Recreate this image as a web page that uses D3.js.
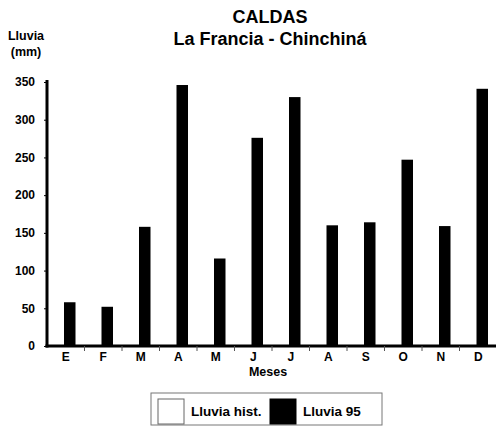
<!DOCTYPE html>
<html><head><meta charset="utf-8">
<script src="https://cdn.jsdelivr.net/npm/d3@7"></script>
<style>
html,body{margin:0;padding:0;background:#fff;}
svg{display:block;font-family:"Liberation Sans",Arial,sans-serif;font-weight:bold;}
</style></head>
<body>
<script>
const months = ["E","F","M","A","M","J","J","A","S","O","N","D"];
const monthKeys = months.map((m,i)=>i+"");
const lluviaHist = [150,160,220,290,290,190,150,170,230,330,300,200];
const lluvia95 = [58,52,158,346,116,276,330,160,164,247,159,341];
const yTicks = [0,50,100,150,200,250,300,350];
const seriesNames = ["Lluvia hist.","Lluvia 95"];
const seriesColors = ["#ffffff","#000000"];

const W=496,H=432;
const svg=d3.select("body").append("svg").attr("width",W).attr("height",H);

const x0=d3.scaleBand().domain(monthKeys).range([47,497]).padding(0);
const x1=d3.scaleBand().domain(["hist","p95"]).range([5.5,28.5]).padding(0);
const y=d3.scaleLinear().domain([0,350]).range([346,82]);

// titles
svg.append("text").attr("x",270).attr("y",23).attr("text-anchor","middle").attr("font-size",18).text("CALDAS");
svg.append("text").attr("x",270).attr("y",45).attr("text-anchor","middle").attr("font-size",18).text("La Francia - Chinchiná");
svg.append("text").attr("x",26).attr("y",40).attr("text-anchor","middle").attr("font-size",12.5).text("Lluvia");
svg.append("text").attr("x",26).attr("y",56).attr("text-anchor","middle").attr("font-size",12.5).text("(mm)");

// bars
const g=svg.append("g");
months.forEach((m,i)=>{
  const bx=x0(monthKeys[i]);
  g.append("rect").attr("x",bx+x1("hist")).attr("width",x1.bandwidth())
   .attr("y",y(lluviaHist[i])).attr("height",y(0)-y(lluviaHist[i])).attr("fill",seriesColors[0]);
  g.append("rect").attr("x",bx+x1("p95")).attr("width",x1.bandwidth())
   .attr("y",y(lluvia95[i])).attr("height",y(0)-y(lluvia95[i])).attr("fill",seriesColors[1]);
});

// y axis
const ya=svg.append("g").attr("transform","translate(47,0)")
 .call(d3.axisLeft(y).tickValues(yTicks).tickSize(3).tickPadding(9));
ya.select(".domain").remove();
ya.selectAll("text").attr("font-size",12).attr("font-family","Liberation Sans, Arial, sans-serif").attr("font-weight","bold").attr("fill","#000");
ya.selectAll("line").attr("stroke","#000");
svg.append("line").attr("x1",47).attr("x2",47).attr("y1",80).attr("y2",347.5).attr("stroke","#000").attr("stroke-width",3);

// x axis
const xa=svg.append("g").attr("transform","translate(0,346)")
 .call(d3.axisBottom(x0).tickSize(0).tickPadding(6).tickFormat((d,i)=>months[i]));
xa.select(".domain").remove();
xa.selectAll("text").attr("font-size",12).attr("font-family","Liberation Sans, Arial, sans-serif").attr("font-weight","bold").attr("fill","#000");
svg.append("line").attr("x1",45.5).attr("x2",497).attr("y1",346).attr("y2",346).attr("stroke","#000").attr("stroke-width",3);
// separator ticks
svg.selectAll("line.sep").data(monthKeys.slice(1)).enter().append("line")
 .attr("x1",d=>x0(d)).attr("x2",d=>x0(d)).attr("y1",346).attr("y2",351).attr("stroke","#555").attr("stroke-width",1);
svg.append("text").attr("x",268).attr("y",376).attr("text-anchor","middle").attr("font-size",12.5).text("Meses");

// legend
const lg=svg.append("g");
lg.append("rect").attr("x",151).attr("y",393).attr("width",231).attr("height",32).attr("fill","#fff").attr("stroke","#777").attr("stroke-width",1);
const lx=[158,270], tx=[191,303];
seriesNames.forEach((s,i)=>{
  lg.append("rect").attr("x",lx[i]).attr("y",399).attr("width",26).attr("height",25)
   .attr("fill",seriesColors[i]).attr("stroke",i===0?"#666":"#000").attr("stroke-width",1);
  lg.append("text").attr("x",tx[i]).attr("y",416).attr("font-size",13.5).text(s);
});
</script>
</body></html>
